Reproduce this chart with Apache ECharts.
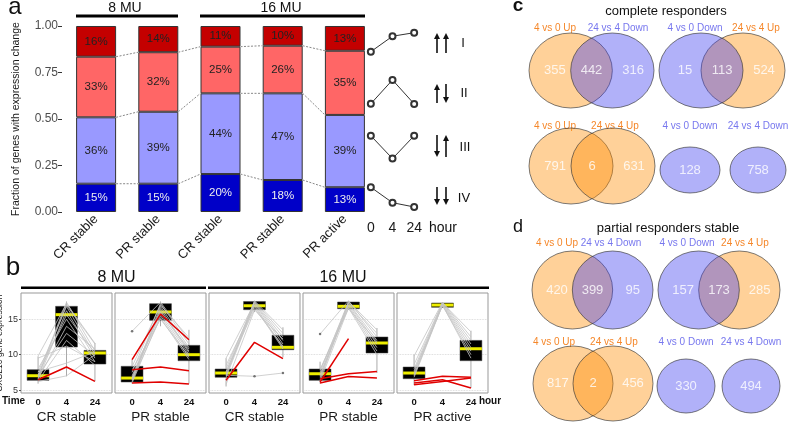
<!DOCTYPE html>
<html><head><meta charset="utf-8">
<script src="https://cdn.jsdelivr.net/npm/echarts@6/dist/echarts.min.js"></script>
<style>html,body{margin:0;padding:0;background:#fff}#c{width:791px;height:427px}</style>
</head><body><div id="c"></div>
<script>
// ================= DATA =================
// Panel a: stacked fractions (bottom -> top: IV, III, II, I)
const barCats = ['CR stable','PR stable','CR stable','PR stable','PR active'];
const fracIV  = [0.152, 0.152, 0.204, 0.172, 0.133];
const fracIII = [0.357, 0.387, 0.434, 0.466, 0.389];
const fracII  = [0.326, 0.320, 0.251, 0.256, 0.345];
const fracI   = [0.165, 0.141, 0.111, 0.106, 0.133];
const pctIV  = ['15%','15%','20%','18%','13%'];
const pctIII = ['36%','39%','44%','47%','39%'];
const pctII  = ['33%','32%','25%','26%','35%'];
const pctI   = ['16%','14%','11%','10%','13%'];

// Panel a key: pattern shapes (0, 4, 24 hour)
const patternHours = ['0','4','24'];
const patI   = [0.862, 0.945, 0.964];
const patII  = [0.582, 0.710, 0.581];
const patIII = [0.410, 0.287, 0.410];
const patIV  = [0.133, 0.050, 0.027];
const patternNames = ['I','II','III','IV'];

// Panel b: CXCL10 expression
const bTimes = ['0','4','24'];
const bPanels = ['CR stable','PR stable','CR stable','PR stable','PR active'];
const bYTicks = [5, 10, 15];
// box stats per time: [low whisker, q1, median, q3, high whisker]
const box1 = [[5.9,6.37,7.02,7.87,9.76],[6.94,11.07,15.64,16.82,17.5],[6.23,8.67,10.23,10.6,11.64]];
const box2 = [[5.9,6.13,6.69,8.35,9.3],[14.0,14.84,16.02,17.19,17.5],[5.9,9.14,9.99,11.31,13.5]];
const box3 = [[5.5,6.8,7.4,7.97,9.5],[16.0,16.34,16.9,17.5,17.6],[9.6,10.69,11.03,12.73,13.86]];
const box4 = [[5.9,6.37,7.3,7.97,9.0],[16.3,16.48,16.82,17.43,17.6],[7.4,10.23,11.64,12.49,13.76]];
const box5 = [[5.7,6.6,7.4,8.25,9.99],[16.68,16.68,17.0,17.29,17.4],[5.28,9.14,10.83,12.01,13.38]];
// individual patients [t0, t4, t24]
const gray1 = [[7.0,17.4,10.5],[6.8,17.0,11.5],[7.5,16.8,10.0],[6.5,16.2,9.5],[7.2,15.6,10.2],[8.0,15.0,9.0],[6.6,14.0,10.8],[7.0,13.0,9.8],[6.3,12.0,8.5],[9.5,11.2,9.0],[7.6,8.8,10.4],[6.2,7.0,10.0],[9.8,17.2,11.6]];
const gray2 = [[13.3,17.4,12.0],[7.5,17.2,11.5],[6.5,16.8,11.0],[6.2,16.5,10.5],[7.0,16.2,10.3],[6.8,15.8,10.0],[6.0,15.5,9.6],[6.4,15.2,9.3],[7.8,15.0,9.8],[6.6,16.0,10.8],[8.3,17.0,12.4]];
const gray3 = [[7.5,17.6,13.5],[7.0,17.5,13.0],[8.0,17.4,12.5],[9.5,17.3,12.0],[7.2,17.2,11.5],[6.8,17.0,11.0],[8.5,16.8,10.8],[7.6,16.5,11.2],[5.8,16.3,12.2],[7.08,6.94,7.4]];
const gray4 = [[12.9,17.6,12.5],[7.5,17.5,13.5],[7.0,17.4,13.0],[6.5,17.3,12.0],[7.8,17.2,11.5],[6.8,17.0,11.0],[7.2,16.8,10.5],[6.2,16.6,10.0],[7.9,16.5,11.8]];
const gray5 = [[9.8,17.4,12.5],[8.0,17.3,12.0],[7.5,17.2,11.5],[7.0,17.1,11.0],[6.8,17.0,10.5],[7.7,16.9,10.0],[8.6,17.3,13.2],[7.2,17.0,9.5]];
const red1 = [[6.45,8.25,6.23]];
const red2 = [[9.28,15.73,12.1],[7.87,8.25,7.73],[5.99,6.13,5.85]];
const red3 = [[6.37,11.74,9.42]];
const red4 = [[6.13,12.25,null],[6.6,7.3,7.6],[6.0,6.9,6.7]];
const red5 = [[6.31,6.93,6.79],[5.99,6.45,5.28],[5.75,6.2,6.69]];
// single points (outliers)
const dots1 = [];
const dots2 = [[1,13.3]];
const dots3 = [[2,6.94],[3,7.4]];
const dots4 = [[1,12.9]];
const dots5 = [];

// Panels c, d: Venn counts [only A, A∩B, only B] or [single]
const vennSets = [['4 vs 0 Up','24 vs 4 Down'],['4 vs 0 Down','24 vs 4 Up'],['4 vs 0 Up','24 vs 4 Up'],['4 vs 0 Down'],['24 vs 4 Down']];
const vennCountsC = [[355,442,316],[15,113,524],[791,6,631],[128],[758]];
const vennCountsD = [[420,399,95],[157,173,285],[817,2,456],[330],[494]];

// ================= LAYOUT / STYLE =================
const FONT = '"Liberation Sans", Arial, Helvetica, sans-serif';
const BAR_W = 40;
const colIV = '#0000C8', colIII = '#9999FF', colII = '#FF6666', colI = '#C40000';
const ORANGE = 'rgba(255,140,0,0.5)', BLUE = 'rgba(60,60,240,0.5)';
const ORANGE_TXT = '#F5872A', BLUE_TXT = '#7777EE';
const L = {
  gridA: {left:65, top:26, width:311, height:186},
  gridP: {left:360, top:26, width:65, height:186},
  bLefts: [21,115,209,303,397], bTop: 293, bW: 91, bH: 100,
  vennC: [[529,33,125,75],[659,33,126,75],[529,128,126,76],[660,147,60,46],[730,147,56,46]],
  vennD: [[532,251,121,78],[658,251,122,78],[533,346,120,75],[657,359,58,54],[722,359,58,54]],
  vennLabC: [[555,618],[695,756],[555,615],[690],[758]], vennLabYC: [28,28,126,126,126],
  vennLabD: [[557,611],[687,745],[554,614],[686],[751]], vennLabYD: [243,243,342,342,342],
  numPos: [-0.88, 0.0, 1.0]
};

const grids = [], xAxes = [], yAxes = [], series = [], graphics = [];

// ---------- Panel a ----------
grids.push(Object.assign({outerBoundsMode:'none', containLabel:false}, L.gridA));
xAxes.push({gridIndex:0, type:'category', data:barCats, axisLine:{show:false}, axisTick:{show:false},
  axisLabel:{rotate:45, fontSize:13, color:'#1a1a1a', margin:5, interval:0, fontFamily:FONT}});
yAxes.push({gridIndex:0, type:'value', min:0, max:1, interval:0.25, offset:3,
  axisLine:{show:false}, axisTick:{show:true, length:4, lineStyle:{color:'#333'}}, splitLine:{show:false},
  axisLabel:{formatter:v=>v.toFixed(2), fontSize:12, color:'#4d4d4d', margin:4, fontFamily:FONT},
  name:'Fraction of genes with expression change', nameLocation:'middle', nameGap:40,
  nameTextStyle:{fontSize:10.5, color:'#1a1a1a', fontFamily:FONT}});
const stackDefs = [[fracIV,pctIV,colIV,'#eeeeee'],[fracIII,pctIII,colIII,'#222'],[fracII,pctII,colII,'#222'],[fracI,pctI,colI,'#222']];
stackDefs.forEach(([vals,labs,col,tc])=>{
  series.push({type:'bar', xAxisIndex:0, yAxisIndex:0, stack:'a', barWidth:BAR_W, data:vals,
    itemStyle:{color:col, borderColor:'#333', borderWidth:1},
    label:{show:true, position:'inside', formatter:p=>labs[p.dataIndex], color:tc, fontSize:11.5, fontFamily:FONT}});
});
series.push({type:'custom', xAxisIndex:0, yAxisIndex:0, silent:true, z:3,
  data:[[0,0],[1,0],[2,0],[3,0]], encode:{x:0,y:1},
  renderItem:(params, api)=>{
    const i = params.dataIndex;
    const cum = j => [fracIV[j], fracIV[j]+fracIII[j], fracIV[j]+fracIII[j]+fracII[j]];
    const a = cum(i), b = cum(i+1), half = BAR_W/2;
    return {type:'group', children:a.map((v,k)=>{
      const p1 = api.coord([i, v]), p2 = api.coord([i+1, b[k]]);
      return {type:'line', shape:{x1:p1[0]+half, y1:p1[1], x2:p2[0]-half, y2:p2[1]},
        style:{stroke:'#555', lineWidth:0.7, lineDash:[2,1.5]}};
    })};
  }});

// ---------- Panel a key ----------
grids.push(Object.assign({outerBoundsMode:'none', containLabel:false}, L.gridP));
xAxes.push({gridIndex:1, type:'category', data:patternHours, boundaryGap:true, axisLine:{show:false}, axisTick:{show:false},
  axisLabel:{fontSize:14, color:'#1a1a1a', margin:9, interval:0, fontFamily:FONT}});
yAxes.push({gridIndex:1, type:'value', min:0, max:1, show:false});
[patI,patII,patIII,patIV].forEach(p=>{
  series.push({type:'line', xAxisIndex:1, yAxisIndex:1, data:p, symbol:'emptyCircle', symbolSize:6,
    lineStyle:{color:'#333', width:1}, itemStyle:{color:'#333', borderWidth:1}});
});

// ---------- Panel b ----------
const boxes = [box1,box2,box3,box4,box5];
const grays = [gray1,gray2,gray3,gray4,gray5];
const reds = [red1,red2,red3,red4,red5];
const dots = [dots1,dots2,dots3,dots4,dots5];
L.bLefts.forEach((left, i)=>{
  const g = grids.length;
  grids.push({left, top:L.bTop, width:L.bW, height:L.bH, show:true, borderColor:'#999', borderWidth:1,
    backgroundColor:'#fff', outerBoundsMode:'none', containLabel:false});
  xAxes.push({gridIndex:g, type:'value', min:0.4, max:3.6, axisLine:{show:false}, axisTick:{show:false, customValues:[1,2,3]},
    splitLine:{show:false},
    axisLabel:{customValues:[1,2,3], formatter:v=>bTimes[Math.round(v)-1], fontSize:9.5, fontWeight:'bold', color:'#111', margin:4, fontFamily:FONT},
    name:bPanels[i], nameLocation:'middle', nameGap:17, nameTextStyle:{fontSize:13.5, color:'#1a1a1a', fontFamily:FONT}});
  const y = {gridIndex:g, type:'value', min:4.58, max:18.7, axisLine:{show:false},
    axisTick:{show:i===0, length:2, customValues:bYTicks, lineStyle:{color:'#555'}},
    axisLabel:{show:i===0, customValues:bYTicks, fontSize:9, color:'#333', margin:3, fontFamily:FONT},
    splitLine:{show:true, lineStyle:{type:'dotted', color:'#d0d0d0', width:0.8}}};
  if (i===0) {
    y.name = '{i|CXCL10} gene expression'; y.nameLocation = 'middle'; y.nameGap = 11;
    y.nameTextStyle = {fontSize:8.5, color:'#222', fontFamily:FONT, rich:{i:{fontStyle:'italic', fontSize:8.5, color:'#222', fontFamily:FONT}}};
  }
  yAxes.push(y);
  series.push({type:'custom', xAxisIndex:g, yAxisIndex:g, z:2, silent:true,
    data: boxes[i].map((s,k)=>[k+1].concat(s)), encode:{x:0, y:[1,2,3,4,5]},
    renderItem:(params, api)=>{
      const x = api.value(0);
      const lo = api.coord([x, api.value(1)]), q1 = api.coord([x, api.value(2)]);
      const md = api.coord([x, api.value(3)]), q3 = api.coord([x, api.value(4)]);
      const hi = api.coord([x, api.value(5)]);
      const hw = api.size([0.77, 0])[0]/2;
      return {type:'group', children:[
        {type:'line', shape:{x1:lo[0], y1:lo[1], x2:hi[0], y2:hi[1]}, style:{stroke:'#aaa', lineWidth:1}},
        {type:'rect', shape:{x:q3[0]-hw, y:q3[1], width:hw*2, height:Math.max(1, q1[1]-q3[1])}, style:{fill:'#000', stroke:'#444', lineWidth:0.5}},
        {type:'line', shape:{x1:md[0]-hw, y1:md[1], x2:md[0]+hw, y2:md[1]}, style:{stroke:'#EEEE00', lineWidth:3}}
      ]};
    }});
  grays[i].forEach(p=>{
    series.push({type:'line', xAxisIndex:g, yAxisIndex:g, z:3, silent:true, symbol:'none',
      data:p.map((v,k)=>[k+1,v]).filter(d=>d[1]!==null), lineStyle:{color:'#c4c4c4', width:0.8}});
  });
  reds[i].forEach(p=>{
    series.push({type:'line', xAxisIndex:g, yAxisIndex:g, z:4, silent:true, symbol:'none',
      data:p.map((v,k)=>[k+1,v]).filter(d=>d[1]!==null), lineStyle:{color:'#E00000', width:1.5}});
  });
  if (dots[i].length) series.push({type:'scatter', xAxisIndex:g, yAxisIndex:g, z:4, silent:true,
    data:dots[i], symbolSize:2.5, itemStyle:{color:'#555'}});
});

// ---------- Panels c, d (Venn) ----------
function addVenn(layout, sets, counts) {
  const [left, top, w, h] = layout;
  const g = grids.length;
  grids.push({left, top, width:w, height:h, outerBoundsMode:'none', containLabel:false});
  const two = sets.length === 2;
  xAxes.push({gridIndex:g, type:'value', min:two?-1.5:-1, max:two?1.5:1, show:false});
  yAxes.push({gridIndex:g, type:'value', min:-1, max:1, show:false});
  const colOf = s => s.indexOf('Up')>=0 ? ORANGE : BLUE;
  let items = two
    ? sets.map((s,k)=>({value:[k===0?-0.5:0.5, 0], itemStyle:{color:colOf(s)}}))
    : [{value:[0,0], itemStyle:{color:colOf(sets[0])}}];
  items.sort((a,b)=> (a.itemStyle.color===ORANGE?0:1) - (b.itemStyle.color===ORANGE?0:1));
  series.push({type:'scatter', xAxisIndex:g, yAxisIndex:g, silent:true, z:2,
    symbol:'circle', symbolSize: two ? [w*2/3, h] : [w, h], data:items,
    itemStyle:{borderColor:'#333', borderWidth:0.8}});
  const nums = two ? counts.map((c,k)=>[L.numPos[k], 0, c]) : [[0,0,counts[0]]];
  series.push({type:'scatter', xAxisIndex:g, yAxisIndex:g, silent:true, z:3, symbolSize:1,
    itemStyle:{color:'rgba(0,0,0,0)'}, data:nums,
    label:{show:true, position:'inside', formatter:p=>String(p.value[2]), color:'#fff', fontSize:13, fontFamily:FONT}});
}
function addVennLabels(xs, yy, sets) {
  sets.forEach((s,k)=>{
    graphics.push({type:'text', x:xs[k], y:yy, silent:true,
      style:{text:s, font:'10px '+FONT, fill: s.indexOf('Up')>=0 ? ORANGE_TXT : BLUE_TXT, textAlign:'center', textVerticalAlign:'middle'}});
  });
}
vennSets.forEach((sets,k)=>{
  addVenn(L.vennC[k], sets, vennCountsC[k]);
  addVennLabels(L.vennLabC[k], L.vennLabYC[k], sets);
  addVenn(L.vennD[k], sets, vennCountsD[k]);
  addVennLabels(L.vennLabD[k], L.vennLabYD[k], sets);
});

// ---------- Text & decorations ----------
function txt(text, x, y, font, opts) {
  graphics.push({type:'text', x, y, silent:true, style:Object.assign({text, font:font+' '+FONT, fill:'#111', textAlign:'center', textVerticalAlign:'middle'}, opts||{})});
}
function bar(x1, x2, y, h) {
  graphics.push({type:'rect', silent:true, shape:{x:x1, y:y, width:x2-x1, height:h}, style:{fill:'#000'}});
}
txt('a', 15, 7, '24px');
txt('b', 13, 268, '26px');
txt('c', 518, 6, 'bold 19px');
txt('d', 518, 227, '18px');
txt('8 MU', 125, 8, '14px'); bar(76, 178, 14.5, 3);
txt('16 MU', 281, 8, '14px'); bar(200, 365, 14.5, 3);
txt('8 MU', 116.5, 277.5, '16px'); bar(21, 206, 286.5, 2.5);
txt('16 MU', 343, 277.5, '16px'); bar(208, 489, 286.5, 2.5);
txt('complete responders', 666, 11, '13px');
txt('partial responders stable', 668, 228, '13px');
txt('hour', 429, 228, '14px', {textAlign:'left'});
txt('Time', 13.5, 401.5, 'bold 10px');
txt('hour', 490, 401.5, 'bold 10px');
const romanPos = [[463,43],[464,93],[465,147],[464,198]];
patternNames.forEach((n,k)=>txt(n, romanPos[k][0], romanPos[k][1], '13px'));
function arrow(x, yTop, yBot, up) {
  const head = 6, hw = 3;
  const tipY = up ? yTop : yBot, baseY = up ? yTop + head : yBot - head, tailY = up ? yBot : yTop;
  graphics.push({type:'line', silent:true, shape:{x1:x, y1:tailY, x2:x, y2:baseY}, style:{stroke:'#111', lineWidth:1.6}});
  graphics.push({type:'polygon', silent:true, shape:{points:[[x,tipY],[x-hw,baseY],[x+hw,baseY]]}, style:{fill:'#111'}});
}
const arrowRows = [[33,53,true,true],[84,103,true,false],[135,157,false,true],[187,205,false,false]];
arrowRows.forEach(([t,b,u1,u2])=>{ arrow(437,t,b,u1); arrow(446,t,b,u2); });

const chart = echarts.init(document.getElementById('c'), null, {renderer:'canvas'});
chart.setOption({
  animation:false,
  backgroundColor:'#fff',
  textStyle:{fontFamily:FONT},
  grid:grids, xAxis:xAxes, yAxis:yAxes, series, graphic:{elements:graphics}
});
</script>
</body></html>
